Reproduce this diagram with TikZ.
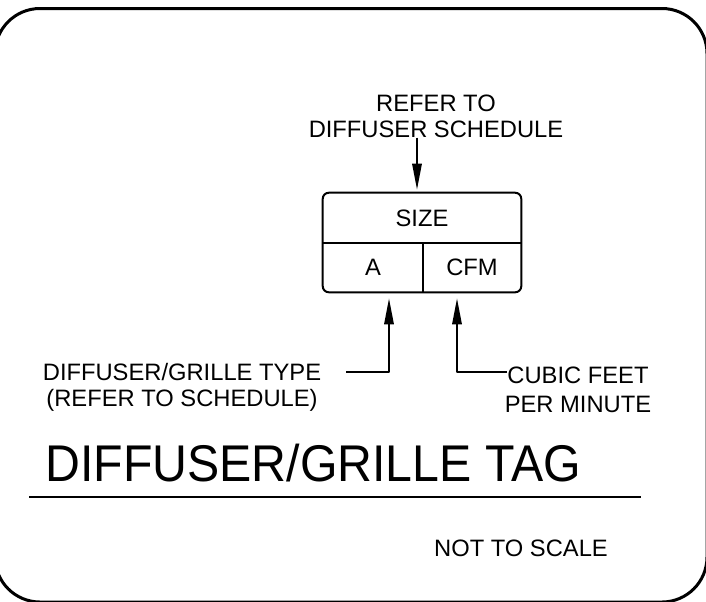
\documentclass[tikz,border=0pt]{standalone}
\usepackage{fontspec}
\setmainfont{Liberation Sans}
\usetikzlibrary{arrows.meta,calc}
\begin{document}
\begin{tikzpicture}[x=0.75pt, y=-0.75pt, line join=round, >={Triangle[length=19.5pt,width=7pt]}]
			\tikzset{every node/.style={inner sep=0pt, font=\fontsize{17.8}{21}\selectfont},
				lead/.style={line width=1.5pt},
				cellbox/.style={minimum height=36.75pt}}
			\def \W{706}
			\def \H{601}
			\useasboundingbox (0,0) rectangle (\W,\H);
			\clip (0,0) rectangle (\W,\H);
			
			% frame
			\draw[line width=2.25pt, rounded corners=33.75pt] (-5,8.5) rectangle (707,602);
			
			% tag
			\node[minimum width=148.5pt, minimum height=37.5pt] (size) at (422,218) {SIZE};
			\node[cellbox, minimum width=75pt] (a) at (373,267.5) {A};
			\node[cellbox, minimum width=73.5pt] (cfm) at (472,267.5) {CFM};
			\draw[lead, rounded corners=4.5pt] (size.north west) rectangle (cfm.south east);
			\draw[lead] (size.south west) -- (size.south east) (a.north east) -- (a.south east);
			
			% labels
			\node[anchor=base] (refer1) at (436,111) {REFER TO};
			\node[anchor=base] (refer2) at (436,137) {DIFFUSER SCHEDULE};
			\node[anchor=base] (type1) at (182,380) {DIFFUSER/GRILLE TYPE};
			\node[anchor=base] (type2) at (182,406) {(REFER TO SCHEDULE)};
			\node[anchor=base] (cfm1) at (578,383) {CUBIC FEET};
			\node[anchor=base] (cfm2) at (578,412) {PER MINUTE};
			\node[anchor=base west, font=\fontsize{36.2}{40}\selectfont] (title) at (45,481.5) {\scalebox{1}[1.07]{DIFFUSER/GRILLE TAG}};
			\node[anchor=base] (scale) at (521,556) {NOT TO SCALE};
			
			\path 
			($(size.north)+(-5,-3)$) coordinate (tipS)
			($(a.south)+(16,6)$) coordinate (tipA)
			($(cfm.south)+(-15,6)$) coordinate (tipC)
			;
			\draw[lead,->] (refer2.south -| tipS) -- (tipS);
			\draw[lead,->] ($(type1.east)+(25,0)$) -| (tipA);
			\draw[lead,->] ($(cfm1.west)+(0,-2.5)$) -| (tipC);
			\draw[lead] (29,497) -- (641,497);
		\end{tikzpicture}
\end{document}
